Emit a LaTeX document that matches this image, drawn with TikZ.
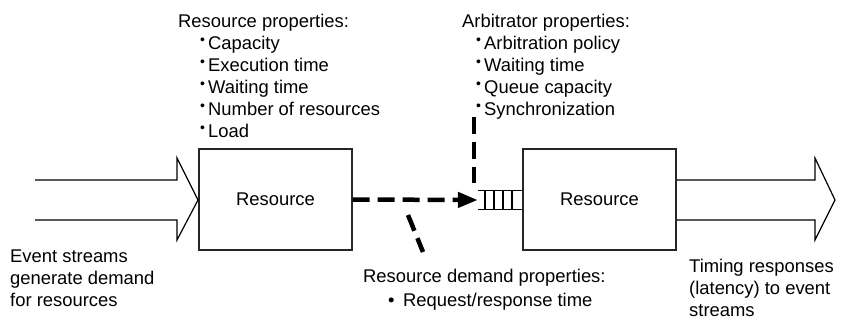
\documentclass[tikz,border=0pt]{standalone}
\usepackage{fontspec}
\setmainfont{Liberation Sans}
\usetikzlibrary{arrows.meta}
\newcommand\pbul{\makebox[8pt][l]{\raisebox{4.5pt}{\fontsize{14}{14}\selectfont •}}}
\begin{document}
\begin{tikzpicture}[x=1pt,y=-1pt,
  every node/.style={font=\fontsize{18.4}{22}\selectfont},
  lbl/.style={anchor=base west,inner sep=0pt},
  resbox/.style={draw=black!85,line width=1.3pt,minimum width=153pt,minimum height=101pt,inner sep=0pt},
  bigarrow/.style={draw=black,line width=1.2pt,line join=miter},
  dashconn/.style={line width=4.5pt,dash pattern=on 17pt off 8pt},
  qline/.style={line width=1.1pt}
]
\useasboundingbox (0,0) rectangle (841,322);

% boxes
\node[resbox] (res1) at (275.5,199.5) {Resource};
\node[resbox] (res2) at (599.5,199.5) {Resource};

% big arrows
\draw[bigarrow] (35,180) -- (177,180) -- (177,158) -- (198,200) -- (177,240) -- (177,220) -- (35,220);
\draw[bigarrow] (res2.east |- 0,180) -- (815,180) -- (815,158) -- (835,200) -- (815,240) -- (815,220) -- (res2.east |- 0,220);

% queue
\node[minimum width=45pt,minimum height=18pt,inner sep=0pt] (queue) at (500.5,200) {};
\draw[qline] (queue.north west) -- (queue.north east);
\draw[qline] (queue.south west) -- (queue.south east);
\foreach \qx in {485,494,503,512}
  \draw[qline] (\qx,191) -- (\qx,209);

% dashed connectors
\draw[dashconn,-{Triangle[length=20pt,width=15pt]}] (res1.east) -- (queue.west);
\coordinate (vtop) at (474,117);
\coordinate (vbot) at (474,183);
\draw[dashconn] (vtop) -- (vbot);
\coordinate (dtop) at (408,215);
\coordinate (dbot) at (423,252);
\draw[dashconn] (dtop) -- (dbot);

% resource properties
\node[lbl] (rp0) at (178,27) {Resource properties:};
\node[lbl] (rp1) at (200,49) {\pbul Capacity};
\node[lbl] (rp2) at (200,71) {\pbul Execution time};
\node[lbl] (rp3) at (200,93) {\pbul Waiting time};
\node[lbl] (rp4) at (200,115) {\pbul Number of resources};
\node[lbl] (rp5) at (200,137) {\pbul Load};

% arbitrator properties
\node[lbl] (ap0) at (462,27) {Arbitrator properties:};
\node[lbl] (ap1) at (476,49) {\pbul Arbitration policy};
\node[lbl] (ap2) at (476,71) {\pbul Waiting time};
\node[lbl] (ap3) at (476,93) {\pbul Queue capacity};
\node[lbl] (ap4) at (476,115) {\pbul Synchronization};

% demand properties
\node[lbl] (dp0) at (363,282) {Resource demand properties:};
\node[lbl] (dp1) at (388,306) {\makebox[15pt][l]{•}Request/response time};

% event streams
\node[lbl] (ev1) at (10,262) {Event streams};
\node[lbl] (ev2) at (10,284) {generate demand};
\node[lbl] (ev3) at (10,306) {for resources};

% timing responses
\node[lbl] (tr1) at (689,272) {Timing responses};
\node[lbl] (tr2) at (689,294) {(latency) to event};
\node[lbl] (tr3) at (689,316) {streams};
\end{tikzpicture}
\end{document}
